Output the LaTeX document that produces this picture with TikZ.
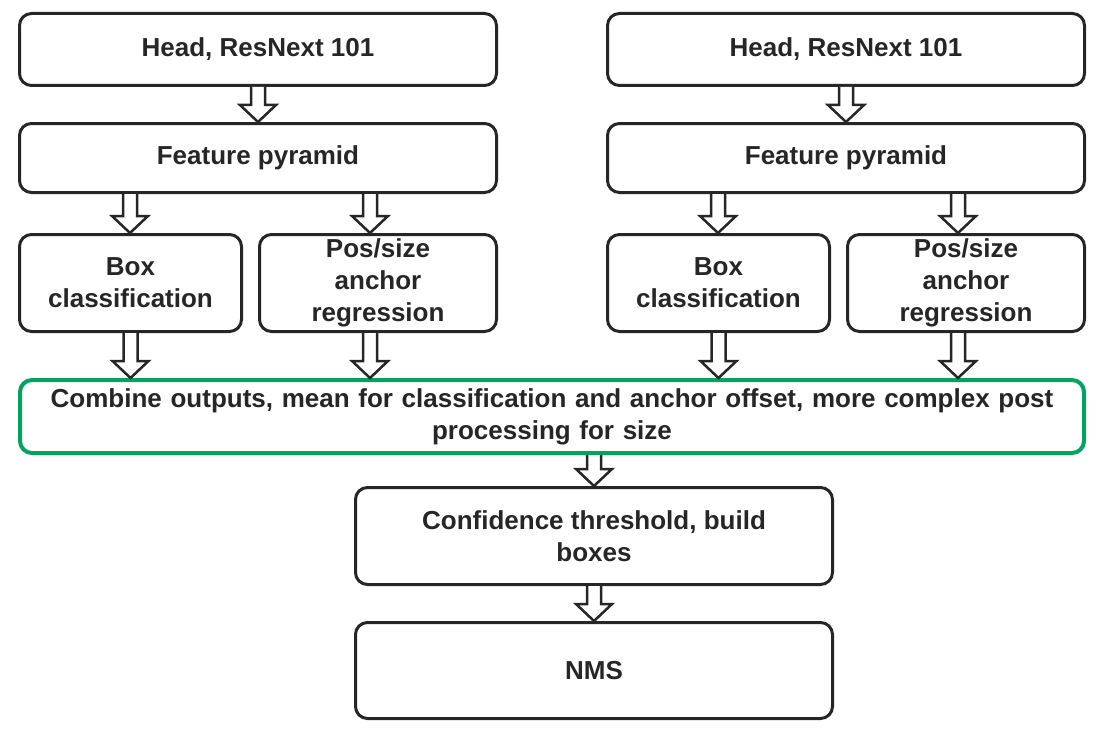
\documentclass[tikz,border=0pt]{standalone}
\usepackage{fontspec}
\setmainfont{Liberation Sans}
\usetikzlibrary{positioning, calc}
\definecolor{lineDark}{HTML}{262626}
\definecolor{mergeGreen}{HTML}{00A460}
\tikzset{
  stage/.style={rectangle, rounded corners=12pt, draw=lineDark, line width=3pt,
                fill=white, text=lineDark, align=center,
                font=\bfseries\fontsize{26pt}{32pt}\selectfont,
                minimum width=477pt, minimum height=72pt, inner sep=4pt},
  merge/.style={stage, draw=mergeGreen, line width=4pt},
  hollowarrow/.style={draw=lineDark, line width=2.5pt, fill=white, line join=miter},
}
% block arrow from #2 (bottom) to #3 (top), shifted by #1
\newcommand{\bigarrow}[3][0pt]{%
  \draw[hollowarrow] let \p1=($(#2.south)+(#1,0)$), \p2=(#3.north) in
    (\x1-7pt,\y1) -- (\x1-7pt,\y2+17pt) -- (\x1-18pt,\y2+17pt) -- (\x1,\y2)
    -- (\x1+18pt,\y2+17pt) -- (\x1+7pt,\y2+17pt) -- (\x1+7pt,\y1);}

\begin{document}
\begin{tikzpicture}
    \useasboundingbox (0,0) rectangle (1107pt,-733pt);
    % two backbones
    \node[stage] (headL) at (258pt,-49.5pt) {Head, ResNext 101};
    \node[stage, right=108pt of headL] (headR) {Head, ResNext 101};
    \node[stage, minimum height=69pt, below=35pt of headL] (featL) {Feature pyramid};
    \node[stage, minimum height=69pt, below=35pt of headR] (featR) {Feature pyramid};
    \node[stage, minimum width=222pt, minimum height=97pt,
          below=39pt of featL.south west, anchor=north west]
          (clsL) {Box\\classification};
    \node[stage, minimum width=237pt, minimum height=97pt, right=15pt of clsL]
          (regL) {Pos/size\\anchor\\regression};
    \node[stage, minimum width=222pt, minimum height=97pt,
          below=39pt of featR.south west, anchor=north west]
          (clsR) {Box\\classification};
    \node[stage, minimum width=237pt, minimum height=97pt, right=15pt of clsR]
          (regR) {Pos/size\\anchor\\regression};
    % ensemble and post processing
    \node[merge, minimum width=1064pt, minimum height=73pt, text width=1040pt,
          below=45pt of clsL.south west, anchor=north west]
          (comb) {Combine outputs, mean for classification and anchor offset, more complex post\\processing for size};
    \node[stage, minimum height=97pt, below=31pt of comb, xshift=42pt]
          (conf) {Confidence threshold, build\\boxes};
    \node[stage, minimum height=96pt, below=35pt of conf] (nms) {NMS};

    \bigarrow{headL}{featL}
    \bigarrow{headR}{featR}
    \bigarrow[-128pt]{featL}{clsL}
    \bigarrow[112pt]{featL}{regL}
    \bigarrow[-128pt]{featR}{clsR}
    \bigarrow[112pt]{featR}{regR}
    \bigarrow{clsL}{comb}
    \bigarrow[-8pt]{regL}{comb}
    \bigarrow{clsR}{comb}
    \bigarrow[-8pt]{regR}{comb}
    \bigarrow[42pt]{comb}{conf}
    \bigarrow{conf}{nms}
\end{tikzpicture}
\end{document}
